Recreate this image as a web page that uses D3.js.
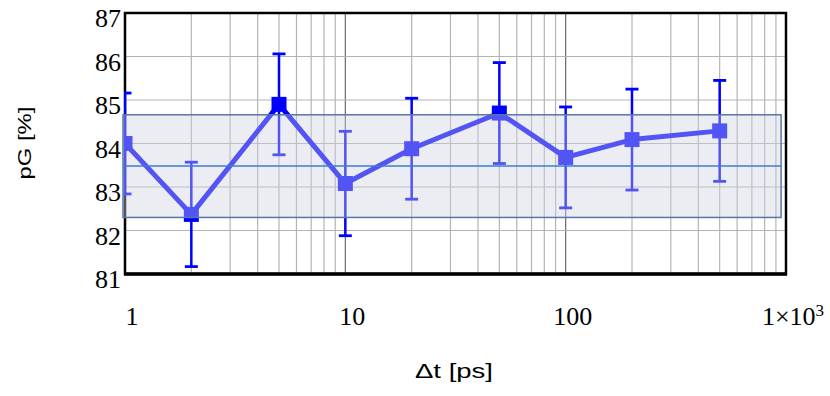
<!DOCTYPE html>
<html>
<head>
<meta charset="utf-8">
<script src="https://cdn.jsdelivr.net/npm/d3@7"></script>
<style>
  body { margin: 0; background: #fff; }
  svg { display: block; }
</style>
</head>
<body>
<div id="chart"></div>
<script>
// data
var dtValues = [1, 2, 5, 10, 20, 50, 100, 200, 500];
var pgValues = [84.0, 82.37, 84.9, 83.08, 83.88, 84.7, 83.68, 84.09, 84.29];
var pgErrors = [1.16, 1.2, 1.16, 1.2, 1.16, 1.16, 1.16, 1.16, 1.16];
var bandLevels = [82.3, 83.48, 84.66]; // low, mean, high
var bandRange = [1, 950];
var yTicks = [81, 82, 83, 84, 85, 86, 87];
var xTicks = [1, 10, 100, 1000];
var xTickLabels = ["1", "10", "100", "1×10^3"];

var width = 830, height = 396;
var margin = { top: 13, right: 44, bottom: 122, left: 125 };

var svg = d3.select("#chart").append("svg")
  .attr("width", width)
  .attr("height", height);

var x = d3.scaleLog().domain([1, 1000]).range([margin.left, width - margin.right]);
var y = d3.scaleLinear().domain([81, 87]).range([height - margin.bottom, margin.top]);

var points = dtValues.map(function (d, i) {
  return { dt: d, pg: pgValues[i], err: pgErrors[i] };
});

// clip for the plot area
svg.append("defs").append("clipPath").attr("id", "plotClip")
  .append("rect")
  .attr("x", x(1) - 1)
  .attr("y", y(87))
  .attr("width", x(1000) - x(1) + 2)
  .attr("height", y(81) - y(87));

// grid
var grid = svg.append("g");
grid.selectAll("line.vx")
  .data(x.ticks())
  .enter().append("line")
  .attr("x1", function (d) { return x(d); })
  .attr("x2", function (d) { return x(d); })
  .attr("y1", y(87))
  .attr("y2", y(81))
  .attr("stroke", function (d) { return xTicks.indexOf(d) >= 0 ? "#6a6a6a" : "#b4b4b4"; })
  .attr("stroke-width", 1.2);

grid.selectAll("line.hy")
  .data(yTicks)
  .enter().append("line")
  .attr("x1", x(1))
  .attr("x2", x(1000))
  .attr("y1", function (d) { return y(d); })
  .attr("y2", function (d) { return y(d); })
  .attr("stroke", "#b4b4b4")
  .attr("stroke-width", 1.2);

// frame
svg.append("rect")
  .attr("x", x(1))
  .attr("y", y(87))
  .attr("width", x(1000) - x(1))
  .attr("height", y(81) - y(87))
  .attr("fill", "none")
  .attr("stroke", "#000")
  .attr("stroke-width", 2.5);
svg.append("line")
  .attr("x1", x(1) - 1).attr("x2", x(1000) + 1)
  .attr("y1", y(81)).attr("y2", y(81))
  .attr("stroke", "#000").attr("stroke-width", 3.5);

// series
var plot = svg.append("g").attr("clip-path", "url(#plotClip)");

var line = d3.line()
  .x(function (d) { return x(d.dt); })
  .y(function (d) { return y(d.pg); });

plot.append("path")
  .datum(points)
  .attr("d", line)
  .attr("fill", "none")
  .attr("stroke", "#0000ff")
  .attr("stroke-width", 5)
  .attr("stroke-linejoin", "round");

var bars = plot.selectAll("g.bar")
  .data(points)
  .enter().append("g");

bars.append("line")
  .attr("x1", function (d) { return x(d.dt); })
  .attr("x2", function (d) { return x(d.dt); })
  .attr("y1", function (d) { return y(d.pg - d.err); })
  .attr("y2", function (d) { return y(d.pg + d.err); })
  .attr("stroke", "#0000ff")
  .attr("stroke-width", 2.5);

[-1, 1].forEach(function (s) {
  bars.append("line")
    .attr("x1", function (d) { return x(d.dt) - 6.5; })
    .attr("x2", function (d) { return x(d.dt) + 6.5; })
    .attr("y1", function (d) { return y(d.pg + s * d.err); })
    .attr("y2", function (d) { return y(d.pg + s * d.err); })
    .attr("stroke", "#0000ff")
    .attr("stroke-width", 2.8);
});

bars.append("rect")
  .attr("x", function (d) { return x(d.dt) - 7.5; })
  .attr("y", function (d) { return y(d.pg) - 7.5; })
  .attr("width", 15)
  .attr("height", 15)
  .attr("fill", "#0000ff");

// shaded band drawn over the series
var band = svg.append("g");
band.append("rect")
  .attr("x", x(bandRange[0]) - 2)
  .attr("y", y(bandLevels[2]))
  .attr("width", x(bandRange[1]) - x(bandRange[0]) + 2)
  .attr("height", y(bandLevels[0]) - y(bandLevels[2]))
  .attr("fill", "rgba(205,210,226,0.4)")
  .attr("stroke", "#5577aa")
  .attr("stroke-width", 1.5);
band.append("line")
  .attr("x1", x(bandRange[0]) - 2)
  .attr("x2", x(bandRange[1]))
  .attr("y1", y(bandLevels[1]))
  .attr("y2", y(bandLevels[1]))
  .attr("stroke", "#3f7bd6")
  .attr("stroke-width", 1.5);

// y tick labels
svg.append("g").selectAll("text")
  .data(yTicks)
  .enter().append("text")
  .attr("x", x(1) - 4)
  .attr("y", function (d) { return y(d) + 14; })
  .attr("text-anchor", "end")
  .style("font-family", "'Liberation Serif', 'Times New Roman', serif")
  .style("font-size", "26px")
  .text(function (d) { return d; });

// x tick labels
var xl = svg.append("g").selectAll("text")
  .data(xTicks)
  .enter().append("text")
  .attr("x", function (d) { return x(d) + 7; })
  .attr("y", y(81) + 51)
  .attr("text-anchor", "middle")
  .style("font-family", "'Liberation Serif', 'Times New Roman', serif")
  .style("font-size", "26px");

xl.each(function (d, i) {
  var parts = xTickLabels[i].split("^");
  var t = d3.select(this);
  t.append("tspan").text(parts[0]);
  if (parts[1]) {
    t.append("tspan")
      .attr("dy", -9)
      .style("font-size", "17px")
      .text(parts[1]);
  }
});

// axis titles
svg.append("text")
  .attr("x", 454)
  .attr("y", 378)
  .attr("text-anchor", "middle")
  .attr("textLength", 78)
  .attr("lengthAdjust", "spacingAndGlyphs")
  .style("font-family", "'Liberation Sans', Arial, sans-serif")
  .style("font-size", "20px")
  .text("Δt [ps]");

svg.append("text")
  .attr("transform", "translate(31,143) rotate(-90)")
  .attr("text-anchor", "middle")
  .attr("textLength", 73)
  .attr("lengthAdjust", "spacingAndGlyphs")
  .style("font-family", "'Liberation Sans', Arial, sans-serif")
  .style("font-size", "18px")
  .text("pG [%]");
</script>
</body>
</html>
